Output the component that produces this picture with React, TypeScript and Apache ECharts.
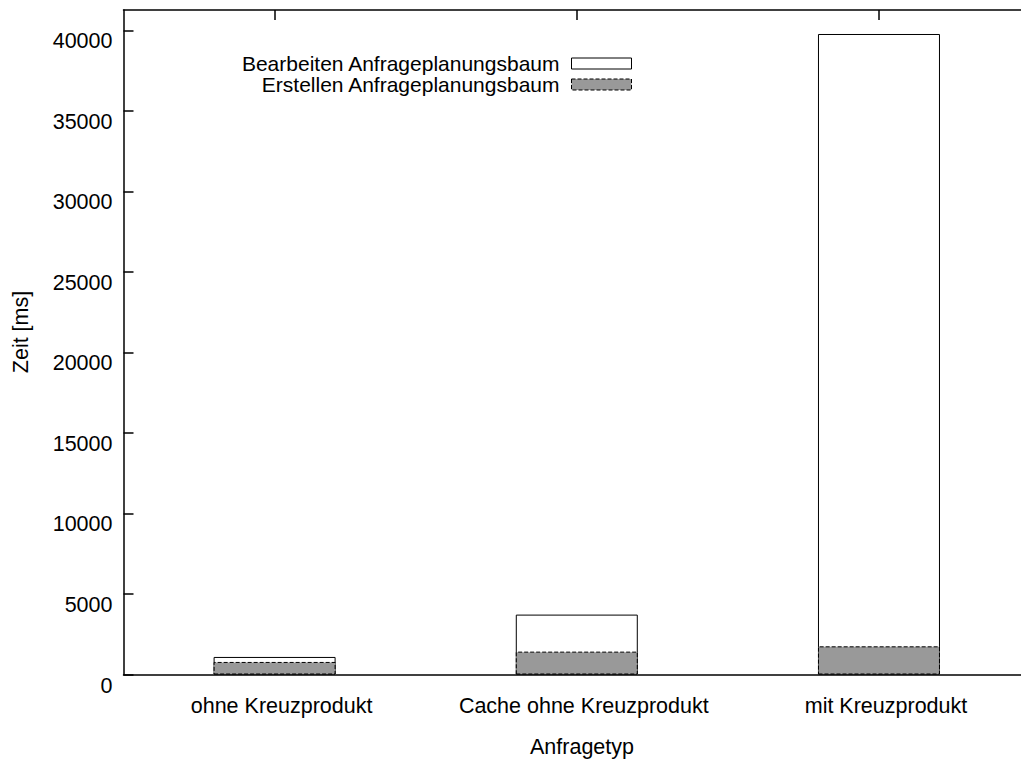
import React, { useEffect, useRef } from "react";
import * as echarts from "echarts";

const categories = ["ohne Kreuzprodukt", "Cache ohne Kreuzprodukt", "mit Kreuzprodukt"];
const categoryPositions = [0, 1, 2];
const erstellenValues = [780, 1420, 1750];
const bearbeitenValues = [310, 2300, 38030];
const seriesNames = ["Bearbeiten Anfrageplanungsbaum", "Erstellen Anfrageplanungsbaum"];
const yMax = 41270;
const yInterval = 5000;

const FONT = "'Liberation Sans', Arial, sans-serif";
const FS = 21.5;

export default function App() {
  const ref = useRef<HTMLDivElement>(null);
  useEffect(() => {
    if (!ref.current) return;
    const chart = echarts.init(ref.current, undefined, { renderer: "svg" });
    const axisLineStyle = { color: "#000", width: 1.5 };
    const xCommon = {
      type: "value" as const,
      min: -0.5,
      max: 2.47,
      splitLine: { show: false },
      axisLine: { show: true, lineStyle: axisLineStyle, onZero: false },
    };
    // stacked tops: Bearbeiten sits on top of Erstellen
    const totals = erstellenValues.map((v, i) => v + bearbeitenValues[i]);
    chart.setOption({
      animation: false,
      textStyle: { fontFamily: FONT },
      grid: { left: 123.5, top: 10, width: 900, height: 664.5, containLabel: false },
      legend: {
        orient: "vertical",
        align: "right",
        right: 384,
        top: 48,
        itemWidth: 60,
        itemHeight: 11,
        itemGap: 0,
        selectedMode: false,
        textStyle: { fontSize: 21, lineHeight: 20.5, color: "#000", fontFamily: FONT, padding: [0, 7, 0, 0] },
        data: [
          { name: seriesNames[0], icon: "rect", itemStyle: { color: "#fff", borderColor: "#000", borderWidth: 1 } },
          { name: seriesNames[1], icon: "rect", itemStyle: { color: "#999", borderColor: "#000", borderWidth: 1, borderType: "dashed" } },
        ],
      },
      xAxis: [
        {
          ...xCommon,
          position: "bottom",
          axisTick: { show: true, inside: true, length: 10, customValues: categoryPositions, lineStyle: axisLineStyle },
          axisLabel: {
            show: true,
            customValues: categoryPositions,
            formatter: (v: number) => categories[Math.round(v)] ?? "",
            fontSize: FS,
            color: "#000",
            margin: 20,
            padding: [0, 0, 0, 14],
            fontFamily: FONT,
          },
        },
        {
          ...xCommon,
          position: "top",
          axisTick: { show: true, inside: true, length: 10, customValues: categoryPositions, lineStyle: axisLineStyle },
          axisLabel: { show: false },
        },
      ],
      yAxis: {
        type: "value",
        min: 0,
        max: yMax,
        interval: yInterval,
        position: "left",
        splitLine: { show: false },
        axisLine: { show: true, onZero: false, lineStyle: axisLineStyle },
        axisTick: { show: true, inside: true, length: 10, lineStyle: axisLineStyle },
        axisLabel: {
          fontSize: FS,
          color: "#000",
          margin: 11,
          verticalAlign: "top",
          showMaxLabel: false,
          fontFamily: FONT,
          formatter: (v: number) => (v % yInterval === 0 ? String(v) : ""),
        },
      },
      series: [
        {
          name: seriesNames[0],
          type: "bar",
          barWidth: 122,
          barGap: "-100%",
          z: 2,
          itemStyle: { color: "#fff", borderColor: "#000", borderWidth: 1 },
          data: categoryPositions.map((x, i) => [x, totals[i]]),
        },
        {
          name: seriesNames[1],
          type: "bar",
          barWidth: 122,
          barGap: "-100%",
          z: 3,
          itemStyle: { color: "#999", borderColor: "#000", borderWidth: 1, borderType: "dashed" },
          data: categoryPositions.map((x, i) => [x, erstellenValues[i]]),
        },
      ],
      graphic: [
        {
          type: "text",
          x: 582,
          y: 747,
          style: { text: "Anfragetyp", fontSize: FS, fill: "#000", align: "center", verticalAlign: "middle", fontFamily: FONT },
        },
        {
          type: "text",
          x: 20.5,
          y: 332,
          rotation: Math.PI / 2,
          style: { text: "Zeit [ms]", fontSize: FS, fill: "#000", align: "center", verticalAlign: "middle", fontFamily: FONT },
        },
      ],
    });
    return () => chart.dispose();
  }, []);
  return (
    <div
      ref={ref}
      style={{ position: "fixed", left: 0, top: 0, width: 1021, height: 761, background: "#fff" }}
    />
  );
}
